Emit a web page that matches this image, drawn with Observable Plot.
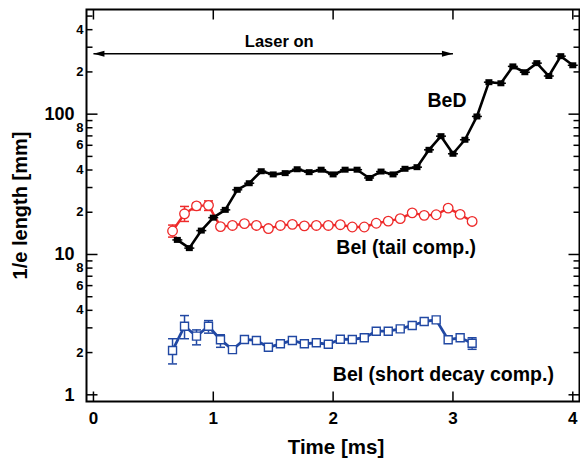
<!DOCTYPE html>
<html>
<head>
<meta charset="utf-8">
<script src="https://cdn.jsdelivr.net/npm/d3@7"></script>
<script src="https://cdn.jsdelivr.net/npm/@observablehq/plot@0.6"></script>
<style>
  html, body { margin: 0; padding: 0; background: #fff; }
</style>
</head>
<body>
<div id="chart"></div>
<script>
// BeD emission: 1/e length (mm) against time (ms)
const bedTime = [0.7, 0.8, 0.9, 1.0, 1.1, 1.2, 1.3, 1.4, 1.5, 1.6, 1.7, 1.8, 1.9, 2.0, 2.1, 2.2, 2.3,
                 2.4, 2.5, 2.6, 2.7, 2.8, 2.9, 3.0, 3.1, 3.2, 3.3, 3.4, 3.5, 3.6, 3.7, 3.8, 3.9, 4.0];
const bedLength = [12.7, 11.1, 14.8, 18.3, 20.8, 28.9, 32.2, 39.2, 37.2, 38.0, 40.5, 38.6, 40.2, 37.2, 40.2, 40.2, 35.1,
                   39.0, 37.2, 40.8, 41.9, 55.7, 69.7, 52.2, 65.7, 96.3, 169, 166, 219, 199, 231, 187, 259, 223];

// BeI emission: tail and short-decay components share the same time points
const beiTime = [0.66, 0.76, 0.86, 0.96, 1.06, 1.16, 1.26, 1.36, 1.46, 1.56, 1.66, 1.76, 1.86,
                 1.96, 2.06, 2.16, 2.26, 2.36, 2.46, 2.56, 2.66, 2.76, 2.86, 2.96, 3.06, 3.16];
const beiTailLength = [14.7, 19.5, 22.2, 22.4, 15.8, 16.1, 16.6, 16.1, 15.3, 16.1, 16.4, 16.0, 16.1,
                       16.1, 16.3, 15.7, 15.7, 16.7, 17.3, 18.0, 19.8, 19.0, 19.2, 21.4, 19.3, 17.2];
const beiShortLength = [2.07, 3.08, 2.62, 3.08, 2.47, 2.10, 2.48, 2.44, 2.18, 2.31, 2.44, 2.31, 2.35,
                        2.29, 2.49, 2.48, 2.55, 2.84, 2.84, 2.95, 3.12, 3.33, 3.42, 2.47, 2.55, 2.33];

// Error bars (low / high) where they exceed the marker size
const tailErrTime = [0.66, 0.76, 0.86, 0.96];
const tailErrLow  = [13.3, 17.2, 20.8, 20.6];
const tailErrHigh = [16.2, 22.0, 23.2, 24.1];
const shortErrTime = [0.66, 0.76, 0.86, 0.96, 1.06, 3.16];
const shortErrLow  = [1.66, 2.51, 2.27, 2.75, 2.18, 2.11];
const shortErrHigh = [2.51, 3.67, 2.90, 3.38, 2.68, 2.55];

// Laser-on interval (ms)
const laserStart = 0;
const laserEnd = 3;
const laserLevel = 270;

// Axis ticks
const xTicks = [0, 1, 2, 3, 4];
const yDecades = [1, 10, 100];
const yMinor = [2, 3, 4, 5, 6, 7, 8, 9, 20, 30, 40, 50, 60, 70, 80, 90, 200, 300, 400, 500];
const yMinorLabeled = [2, 4, 6, 8, 20, 40, 60, 80, 200, 400];

const bed = bedTime.map((t, i) => ({t, v: bedLength[i]}));
const tail = beiTime.map((t, i) => ({t, v: beiTailLength[i]}));
const short = beiTime.map((t, i) => ({t, v: beiShortLength[i]}));
const tailErr = tailErrTime.map((t, i) => ({t, lo: tailErrLow[i], hi: tailErrHigh[i]}));
const shortErr = shortErrTime.map((t, i) => ({t, lo: shortErrLow[i], hi: shortErrHigh[i]}));
const laser = [{start: laserStart, end: laserEnd, level: laserLevel}];

// Small path-based symbols for ticks, markers and arrowheads
const shape = fn => ({draw(ctx) { fn(ctx); }});
const hLine = (a, b) => shape(c => { c.moveTo(a, 0); c.lineTo(b, 0); });
const vLine = (a, b) => shape(c => { c.moveTo(0, a); c.lineTo(0, b); });
const box = (w, h) => shape(c => { c.rect(-w / 2, -h / 2, w, h); });
const headLeft = shape(c => { c.moveTo(0, 0); c.lineTo(11, -3); c.lineTo(11, 3); c.closePath(); });
const headRight = shape(c => { c.moveTo(0, 0); c.lineTo(-11, -3); c.lineTo(-11, 3); c.closePath(); });

const red = "#ee2a2a";
const blue = "#2148a3";
const tickStyle = {stroke: "black", strokeWidth: 1.5, fill: "none"};
// leading digit of a log tick (20 -> "2", 400 -> "4")
const mantissa = d => String(Math.round(d / 10 ** Math.floor(Math.log10(d) + 1e-9)));

const chart = Plot.plot({
  width: 580,
  height: 460,
  marginTop: 9,
  marginRight: 1,
  marginBottom: 59,
  marginLeft: 86,
  style: {fontFamily: "'Liberation Sans', Arial, sans-serif", fontWeight: "bold", color: "black", background: "white"},
  x: {domain: [-0.058, 4.056], axis: null},
  y: {type: "log", domain: [0.896, 557], axis: null},
  marks: [
    Plot.frame({stroke: "black", strokeWidth: 2}),

    // inward ticks on all four sides
    Plot.dot(yMinor, {y: d => d, frameAnchor: "left", symbol: hLine(0, 6), ...tickStyle}),
    Plot.dot(yDecades, {y: d => d, frameAnchor: "left", symbol: hLine(0, 11), ...tickStyle}),
    Plot.dot(yMinor, {y: d => d, frameAnchor: "right", symbol: hLine(-6, 0), ...tickStyle}),
    Plot.dot(yDecades, {y: d => d, frameAnchor: "right", symbol: hLine(-11, 0), ...tickStyle}),
    Plot.dot(xTicks, {x: d => d, frameAnchor: "bottom", symbol: vLine(-10, 0), ...tickStyle}),
    Plot.dot(xTicks, {x: d => d, frameAnchor: "top", symbol: vLine(0, 10), ...tickStyle}),

    // tick labels
    Plot.text(xTicks, {x: d => d, text: d => String(d), frameAnchor: "bottom", lineAnchor: "top", dy: 10, fontSize: 17, fontWeight: "bold"}),
    Plot.text(yDecades, {y: d => d, text: d => String(d), frameAnchor: "left", textAnchor: "end", dx: -12, fontSize: 18, fontWeight: "bold"}),
    Plot.text(yMinorLabeled, {y: d => d, text: mantissa, frameAnchor: "left", textAnchor: "end", dx: -3, fontSize: 13, fontWeight: "bold"}),

    // axis titles
    Plot.text(["Time [ms]"], {frameAnchor: "bottom", lineAnchor: "middle", dy: 46, dx: 3, fontSize: 20.5, fontWeight: "bold"}),
    Plot.text(["1/e length [mm]"], {frameAnchor: "left", textAnchor: "middle", lineAnchor: "middle", dx: -66, rotate: -90, fontSize: 20, fontWeight: "bold"}),

    // laser-on interval
    Plot.link(laser, {x1: "start", x2: "end", y1: "level", y2: "level", stroke: "black", strokeWidth: 1.5}),
    Plot.dot(laser, {x: "start", y: "level", symbol: headLeft, fill: "black", stroke: "none"}),
    Plot.dot(laser, {x: "end", y: "level", symbol: headRight, fill: "black", stroke: "none"}),
    Plot.text(["Laser on"], {x: [1.55], y: [327], fontSize: 16.5, fontWeight: "bold"}),

    // BeI short decay component
    Plot.ruleX(shortErr, {x: "t", y1: "lo", y2: "hi", stroke: blue, strokeWidth: 1.5}),
    Plot.dot(shortErr, {x: "t", y: "lo", symbol: hLine(-4.5, 4.5), stroke: blue, strokeWidth: 1.5, fill: "none"}),
    Plot.dot(shortErr, {x: "t", y: "hi", symbol: hLine(-4.5, 4.5), stroke: blue, strokeWidth: 1.5, fill: "none"}),
    Plot.line(short, {x: "t", y: "v", stroke: blue, strokeWidth: 2.8}),
    Plot.dot(short, {x: "t", y: "v", symbol: box(8, 8), stroke: blue, strokeWidth: 1.4, fill: "white"}),

    // BeI tail component
    Plot.ruleX(tailErr, {x: "t", y1: "lo", y2: "hi", stroke: red, strokeWidth: 1.5}),
    Plot.dot(tailErr, {x: "t", y: "lo", symbol: hLine(-4.5, 4.5), stroke: red, strokeWidth: 1.5, fill: "none"}),
    Plot.dot(tailErr, {x: "t", y: "hi", symbol: hLine(-4.5, 4.5), stroke: red, strokeWidth: 1.5, fill: "none"}),
    Plot.line(tail, {x: "t", y: "v", stroke: red, strokeWidth: 2.4}),
    Plot.dot(tail, {x: "t", y: "v", symbol: "circle", r: 4.8, stroke: red, strokeWidth: 1.3, fill: "white"}),

    // BeD
    Plot.line(bed, {x: "t", y: "v", stroke: "black", strokeWidth: 2.6}),
    Plot.dot(bed, {x: "t", y: "v", symbol: box(7, 6), fill: "black", stroke: "none"}),
    Plot.dot(bed, {x: "t", y: "v", symbol: hLine(-5, 5), stroke: "black", strokeWidth: 1.5, fill: "none"}),

    // series labels
    Plot.text(["BeD"], {x: [2.95], y: [125], fontSize: 19.5, fontWeight: "bold"}),
    Plot.text(["BeI (tail comp.)"], {x: [2.61], y: [11.2], fontSize: 19.5, fontWeight: "bold"}),
    Plot.text(["BeI (short decay comp.)"], {x: [2.92], y: [1.395], fontSize: 19.5, fontWeight: "bold"})
  ]
});

document.getElementById("chart").appendChild(chart);
</script>
</body>
</html>
